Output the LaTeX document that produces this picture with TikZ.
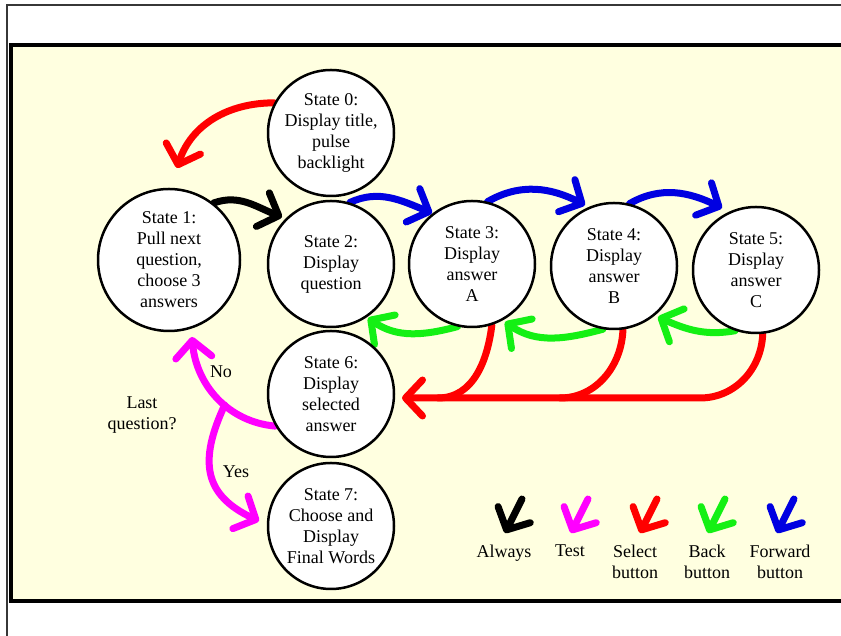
\documentclass[tikz,border=0pt]{standalone}
\usepackage{fontspec}
\setmainfont{Liberation Serif}
\usetikzlibrary{arrows.meta,calc}
\definecolor{bgyellow}{RGB}{255,255,224}
\definecolor{myred}{RGB}{255,0,0}
\definecolor{mygreen}{RGB}{20,240,20}
\definecolor{myblue}{RGB}{0,0,225}
\definecolor{mymagenta}{RGB}{255,0,255}
\definecolor{framegray}{RGB}{55,55,55}
\pgfdeclarelayer{bg}
\pgfdeclarelayer{arr}
\pgfsetlayers{bg,arr,main}
\begin{document}
\begin{tikzpicture}[x=1pt,y=1pt,
  state/.style={circle,draw=black,line width=2.5pt,fill=white,minimum size=126pt,inner sep=0pt,align=center,font=\fontsize{18}{21}\selectfont},
  trans/.style={line width=7pt,line cap=round,-{Straight Barb[length=17pt,width=36pt,round]}},
  seg/.style={line width=7pt,line cap=round},
  lbl/.style={font=\fontsize{18}{21}\selectfont,align=center,inner sep=0pt}]
\useasboundingbox (0,0) rectangle (841,636);
\begin{pgfonlayer}{bg}
\clip (0,0) rectangle (841,636);
\fill[white] (0,0) rectangle (841,636);
\draw[framegray,line width=2pt] (6.5,0) -- (6.5,631) -- (845,631);
\draw[fill=bgyellow,line width=4pt] (11,35) rectangle (860,591);
\end{pgfonlayer}

\node[state] (s0) at (331,503) {State 0:\\Display title,\\pulse\\backlight};
\node[state,minimum size=142pt] (s1) at (169,376) {State 1:\\Pull next\\question,\\choose 3\\answers};
\node[state] (s2) at (331,372) {State 2:\\Display\\question};
\node[state] (s3) at (472,372) {State 3:\\Display\\answer\\A};
\node[state] (s4) at (614,370) {State 4:\\Display\\answer\\B};
\node[state] (s5) at (756,366) {State 5:\\Display\\answer\\C};
\node[state] (s6) at (331,242) {State 6:\\Display\\selected\\answer};
\node[state] (s7) at (331,110) {State 7:\\Choose and\\Display\\Final Words};

\coordinate (t01) at (177,468);
\coordinate (t12) at (282,419);
\coordinate (t23) at (432,423);
\coordinate (t34) at (585,431);
\coordinate (t45) at (722,428);
\coordinate (t32) at (368,318);
\coordinate (t43) at (505,314);
\coordinate (t54) at (658,319);
\coordinate (j5) at (700,238);
\coordinate (j4) at (560,238);
\coordinate (j3) at (438,238);
\coordinate (t6) at (402,238);
\coordinate (t61) at (192,299);
\coordinate (t67) at (259,115);

\node[lbl] (no) at (221,264) {No};
\node[lbl] (lq) at (142,221) {Last\\question?};
\node[lbl] (yes) at (236,164) {Yes};

\node[lbl,anchor=north] (lg1) at (504,91) {Always};
\node[lbl,anchor=north] (lg2) at (570,91) {Test};
\node[lbl,anchor=north] (lg3) at (635,91) {Select\\button};
\node[lbl,anchor=north] (lg4) at (707,91) {Back\\button};
\node[lbl,anchor=north] (lg5) at (780,91) {Forward\\button};

\begin{pgfonlayer}{arr}
\draw[trans,myred] (s0.152) to[out=180,in=72] (t01);
\draw[trans,black] (s1.52) to[out=20,in=159] (t12);
\draw[trans,myblue] (s2.73) to[out=25,in=158] (t23);
\draw[trans,myblue] (s3.76) to[out=30,in=153] (t34);
\draw[trans,myblue] (s4.76) to[out=30,in=154] (t45);
\draw[trans,mygreen] (s3.257) to[out=195,in=-35] (t32);
\draw[trans,mygreen] (s4.260) to[out=195,in=-35] (t43);
\draw[trans,mygreen] (s5.251) to[out=190,in=-24] (t54);
\draw[seg,myred] (s4.278) to[out=-92,in=0] (j4);
\draw[seg,myred] (s3.288) to[out=-97,in=0] (j3);
\draw[trans,myred] (s5.276) to[out=-92,in=0] (j5) -- (t6);
\draw[trans,mymagenta] (s6.210) to[out=175,in=-85] coordinate[pos=0.42] (br) (t61);
\draw[trans,mymagenta] (br) to[out=245,in=155,looseness=1.3] (t67);
\draw[trans,black] ($(lg1.north)+(18,46)$) -- ($(lg1.north)+(1,12)$);
\draw[trans,mymagenta] ($(lg2.north)+(18,46)$) -- ($(lg2.north)+(1,12)$);
\draw[trans,myred] ($(lg3.north)+(22,46)$) -- ($(lg3.north)+(5,12)$);
\draw[trans,mygreen] ($(lg4.north)+(18,46)$) -- ($(lg4.north)+(1,12)$);
\draw[trans,myblue] ($(lg5.north)+(14,46)$) -- ($(lg5.north)+(-3,12)$);
\end{pgfonlayer}
\end{tikzpicture}
\end{document}
